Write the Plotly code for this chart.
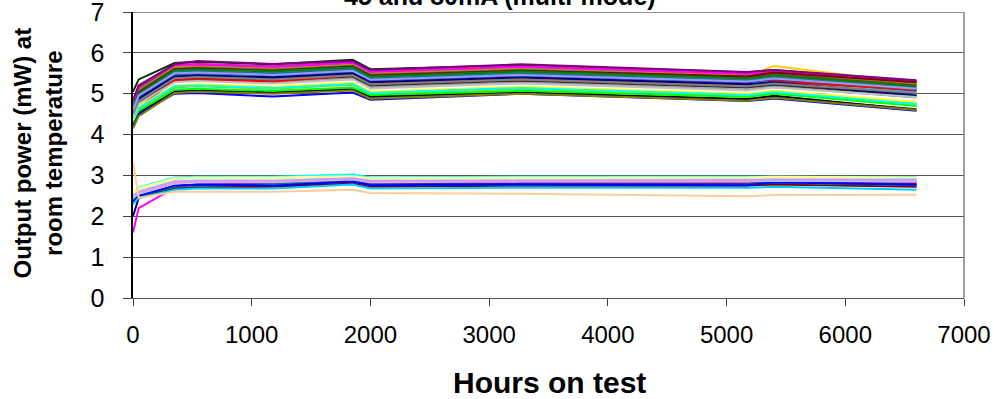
import plotly.graph_objects as go

hours = [0, 48, 350, 540, 1180, 1850, 2000, 3270, 5170, 5400, 6600]

# lower group (45 mA) - Excel default series colours 1-16
low_colors = ["#000080", "#FF00FF", "#FFFF00", "#00FFFF", "#800080", "#800000", "#008080", "#0000FF",
              "#00CCFF", "#CCFFFF", "#CCFFCC", "#FFFF99", "#99CCFF", "#FF99CC", "#CC99FF", "#FFCC99"]
low_values = [
    [2.00, 2.45, 2.72, 2.75, 2.75, 2.88, 2.78, 2.80, 2.80, 2.85, 2.78],
    [1.60, 2.20, 2.70, 2.78, 2.80, 2.90, 2.82, 2.85, 2.85, 2.88, 2.85],
    [2.55, 2.65, 2.90, 2.93, 2.93, 2.97, 2.92, 2.95, 2.95, 2.93, 2.92],
    [2.45, 2.70, 2.95, 2.97, 2.97, 3.02, 2.95, 2.97, 2.97, 2.97, 2.96],
    [2.40, 2.50, 2.75, 2.78, 2.80, 2.85, 2.78, 2.80, 2.80, 2.82, 2.80],
    [2.35, 2.45, 2.68, 2.70, 2.72, 2.80, 2.72, 2.75, 2.75, 2.78, 2.72],
    [2.40, 2.50, 2.72, 2.75, 2.78, 2.85, 2.77, 2.78, 2.78, 2.82, 2.76],
    [2.35, 2.50, 2.75, 2.78, 2.75, 2.85, 2.76, 2.78, 2.76, 2.83, 2.77],
    [2.30, 2.45, 2.65, 2.68, 2.68, 2.78, 2.68, 2.70, 2.70, 2.72, 2.65],
    [2.50, 2.60, 2.88, 2.90, 2.90, 2.95, 2.88, 2.90, 2.90, 2.92, 2.90],
    [2.55, 2.62, 2.90, 2.92, 2.92, 2.95, 2.90, 2.92, 2.92, 2.95, 2.93],
    [2.60, 2.68, 2.93, 2.95, 2.95, 2.98, 2.93, 2.95, 2.95, 2.97, 2.95],
    [2.45, 2.55, 2.80, 2.83, 2.83, 2.90, 2.83, 2.85, 2.85, 2.87, 2.85],
    [2.50, 2.58, 2.82, 2.85, 2.85, 2.92, 2.85, 2.87, 2.87, 2.90, 2.88],
    [2.50, 2.60, 2.85, 2.87, 2.87, 2.93, 2.87, 2.88, 2.88, 2.90, 2.90],
    [3.34, 2.45, 2.60, 2.60, 2.60, 2.65, 2.57, 2.55, 2.49, 2.52, 2.53],
]

# upper group (80 mA)
high_colors = ["#3366FF", "#33CCCC", "#99CC00", "#FFCC00", "#FF9900", "#FF6600", "#666699", "#969696",
               "#003366", "#339966", "#003300", "#333300", "#993300", "#993366", "#333399", "#333333",
               "#000000", "#FFFFFF", "#FF0000", "#00FF00", "#0000FF", "#FFFF00", "#FF00FF", "#00FFFF",
               "#800000", "#008000", "#000080", "#808000", "#800080", "#008080", "#C0C0C0", "#808080",
               "#9999FF"]
high_values = [
    [4.62, 4.95, 5.50, 5.53, 5.47, 5.57, 5.35, 5.47, 5.30, 5.37, 5.10],
    [4.55, 4.90, 5.45, 5.48, 5.42, 5.52, 5.30, 5.42, 5.25, 5.32, 5.05],
    [4.35, 4.62, 5.15, 5.18, 5.12, 5.22, 5.00, 5.12, 4.95, 5.02, 4.75],
    [4.70, 5.05, 5.60, 5.63, 5.57, 5.67, 5.45, 5.57, 5.42, 5.68, 5.25],
    [4.78, 5.10, 5.65, 5.68, 5.62, 5.72, 5.50, 5.62, 5.45, 5.52, 5.25],
    [4.82, 5.15, 5.68, 5.70, 5.64, 5.75, 5.52, 5.65, 5.47, 5.55, 5.27],
    [4.65, 5.00, 5.55, 5.58, 5.52, 5.62, 5.40, 5.52, 5.35, 5.42, 5.15],
    [4.45, 4.78, 5.30, 5.33, 5.27, 5.37, 5.15, 5.27, 5.10, 5.17, 4.90],
    [4.52, 4.85, 5.40, 5.43, 5.37, 5.47, 5.25, 5.37, 5.20, 5.27, 5.00],
    [4.72, 5.08, 5.62, 5.65, 5.59, 5.69, 5.47, 5.59, 5.42, 5.49, 5.22],
    [5.05, 5.35, 5.75, 5.78, 5.72, 5.83, 5.60, 5.70, 5.52, 5.58, 5.30],
    [4.18, 4.48, 5.05, 5.08, 5.02, 5.12, 4.90, 5.02, 4.85, 4.92, 4.62],
    [4.75, 5.05, 5.60, 5.63, 5.57, 5.67, 5.45, 5.57, 5.40, 5.47, 5.20],
    [4.80, 5.15, 5.70, 5.73, 5.67, 5.77, 5.55, 5.67, 5.50, 5.57, 5.30],
    [4.60, 4.92, 5.48, 5.51, 5.45, 5.55, 5.33, 5.45, 5.28, 5.35, 5.08],
    [4.48, 4.80, 5.35, 5.38, 5.32, 5.42, 5.20, 5.32, 5.15, 5.22, 4.95],
    [4.25, 4.55, 5.05, 5.07, 5.03, 5.10, 4.93, 5.03, 4.87, 4.95, 4.60],
    [4.40, 4.72, 5.25, 5.28, 5.22, 5.32, 5.10, 5.22, 5.05, 5.12, 4.85],
    [4.38, 4.65, 5.33, 5.35, 5.30, 5.45, 5.25, 5.35, 5.20, 5.30, 5.10],
    [4.28, 4.58, 5.10, 5.12, 5.07, 5.15, 4.97, 5.07, 4.92, 5.00, 4.70],
    [4.20, 4.50, 5.00, 5.02, 4.93, 5.03, 4.85, 5.00, 4.82, 4.88, 4.58],
    [4.35, 4.68, 5.20, 5.23, 5.17, 5.27, 5.05, 5.17, 5.00, 5.07, 4.80],
    [4.75, 5.20, 5.70, 5.72, 5.66, 5.76, 5.54, 5.66, 5.49, 5.56, 5.30],
    [4.40, 4.65, 5.18, 5.20, 5.14, 5.24, 5.02, 5.14, 4.97, 5.04, 4.75],
    [4.68, 5.02, 5.60, 5.62, 5.56, 5.66, 5.44, 5.56, 5.42, 5.52, 5.28],
    [4.70, 5.00, 5.58, 5.60, 5.55, 5.65, 5.42, 5.55, 5.38, 5.45, 5.18],
    [4.55, 4.88, 5.42, 5.45, 5.40, 5.50, 5.28, 5.40, 5.23, 5.28, 4.95],
    [4.15, 4.45, 5.02, 5.05, 5.00, 5.08, 4.88, 5.00, 4.83, 4.90, 4.60],
    [4.85, 5.20, 5.72, 5.80, 5.73, 5.80, 5.58, 5.72, 5.53, 5.58, 5.33],
    [4.62, 4.97, 5.52, 5.55, 5.49, 5.59, 5.37, 5.49, 5.32, 5.39, 5.12],
    [4.42, 4.75, 5.28, 5.31, 5.25, 5.35, 5.13, 5.25, 5.08, 5.15, 4.92],
    [4.50, 4.82, 5.38, 5.41, 5.35, 5.45, 5.23, 5.35, 5.18, 5.25, 5.02],
    [4.60, 4.95, 5.50, 5.52, 5.46, 5.56, 5.34, 5.46, 5.30, 5.37, 5.12],
]

title_text = "45 and 80mA (multi-mode)"
x_title = "Hours on test"
y_title = "Output power (mW) at<br>room temperature"

FONT = "Arial, Liberation Sans, sans-serif"

fig = go.Figure()
for vals, col in zip(low_values, low_colors):
    fig.add_trace(go.Scatter(x=hours, y=vals, mode="lines", line=dict(color=col, width=2), showlegend=False))
for vals, col in zip(high_values, high_colors):
    fig.add_trace(go.Scatter(x=hours, y=vals, mode="lines", line=dict(color=col, width=2), showlegend=False))

L, R, T, B = 133, 30, 12, 101
W, H = 994, 399
pw, ph = W - L - R, H - T - B

fig.update_layout(
    width=W, height=H,
    margin=dict(l=L, r=R, t=T, b=B, pad=0, autoexpand=False),
    paper_bgcolor="white", plot_bgcolor="white",
    font=dict(family=FONT, color="black", size=24),
    xaxis=dict(range=[0, 7000], dtick=1000, tick0=0, showgrid=False, zeroline=False, automargin=False,
               showline=True, linecolor="#505050", linewidth=1,
               ticks="outside", ticklen=7, tickcolor="#404040", ticklabeloverflow="allow",
               ticklabelstandoff=8, tickfont=dict(size=24, family=FONT)),
    yaxis=dict(range=[0, 7], dtick=1, tick0=0, showgrid=True, gridcolor="#555555", gridwidth=1,
               zeroline=False, showline=True, linecolor="black", linewidth=1.5, automargin=False,
               ticks="outside", ticklen=8, tickwidth=1, tickcolor="#404040",
               ticklabeloverflow="allow", ticksuffix="\u00a0\u00a0",
               tickfont=dict(size=25, family=FONT)),
)

# top border (gridline at 7) and right border
fig.add_shape(type="line", xref="paper", yref="y", x0=0, x1=1, y0=7, y1=7,
              line=dict(color="#707070", width=1.5))
fig.add_shape(type="line", xref="paper", yref="paper", x0=1, x1=1, y0=0, y1=1,
              line=dict(color="#808080", width=1.5))

fig.add_annotation(text=title_text, xref="paper", yref="paper",
                   x=(500 - L) / pw, y=1 + (T + 4) / ph, xanchor="center", yanchor="middle",
                   showarrow=False, font=dict(size=25, family=FONT, color="black", weight="bold"))
fig.add_annotation(text="<b>" + x_title + "</b>", xref="paper", yref="paper",
                   x=(549 - L) / pw, y=-(382 - T - ph) / ph, xanchor="center", yanchor="middle",
                   showarrow=False, font=dict(size=30, family=FONT, color="black"))
fig.add_annotation(text="<b>" + y_title + "</b>", xref="paper", yref="paper",
                   x=(37.5 - L) / pw, y=(T + ph - 153) / ph, xanchor="center", yanchor="middle",
                   textangle=-90, showarrow=False,
                   font=dict(size=24, family=FONT, color="black"))

fig.write_html("out.html")
